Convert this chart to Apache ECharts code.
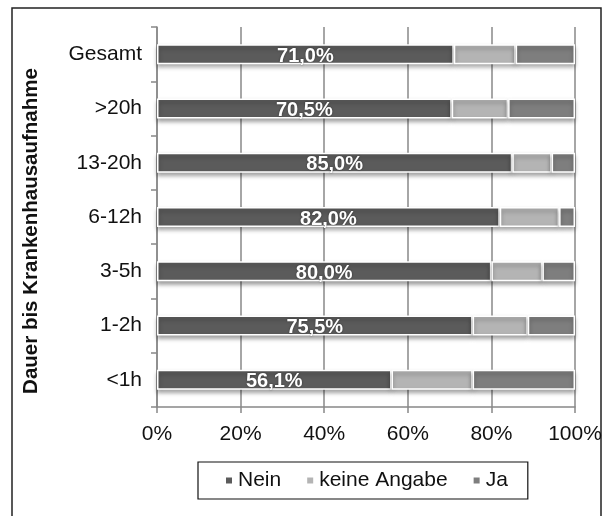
<!DOCTYPE html>
<html>
<head>
<meta charset="utf-8">
<script src="https://cdn.jsdelivr.net/npm/echarts@6/dist/echarts.min.js"></script>
<style>
  html, body { margin: 0; padding: 0; background: #fff; }
  #chart { width: 614px; height: 516px; }
</style>
</head>
<body>
<div id="chart"></div>
<script>
var categories = ['Gesamt', '>20h', '13-20h', '6-12h', '3-5h', '1-2h', '<1h']
var neinValues = [71.0, 70.5, 85.0, 82.0, 80.0, 75.5, 56.1]
var keineValues = [14.8, 13.5, 9.4, 14.2, 12.2, 13.2, 19.4]
var jaValues = [14.2, 16.0, 5.6, 3.8, 7.8, 11.3, 24.5]
var xTicks = [0, 20, 40, 60, 80, 100]

var chart = echarts.init(document.getElementById('chart'))

// gemeinsamer Stil fuer die Balken
var barStyle = function (color) {
  return {
    color: color,
    borderColor: '#fff',
    borderWidth: 1.5,
    shadowColor: 'rgba(0,0,0,0.35)',
    shadowBlur: 4,
    shadowOffsetY: 3
  }
}

var option = {
  backgroundColor: '#fff',
  animation: false,
  textStyle: { fontFamily: 'Liberation Sans, Arial, sans-serif' },
  graphic: [
    {
      type: 'rect',
      shape: { x: 12, y: 8, width: 589, height: 520 },
      style: { fill: 'none', stroke: '#222', lineWidth: 1.5 },
      silent: true
    },
    {
      type: 'text',
      x: 31, y: 231,
      rotation: Math.PI / 2,
      style: {
        text: 'Dauer bis Krankenhausaufnahme',
        font: 'bold 20.5px Liberation Sans, Arial, sans-serif',
        fill: '#111',
        textAlign: 'center',
        textVerticalAlign: 'middle'
      }
    }
  ],
  legend: {
    top: 462,
    left: 198,
    itemWidth: 8,
    itemHeight: 8,
    itemGap: 24,
    padding: [8, 20, 8, 26],
    borderColor: '#111',
    borderWidth: 1.2,
    icon: 'rect',
    textStyle: { fontSize: 21, color: '#111' },
    data: ['Nein', 'keine Angabe', 'Ja']
  },
  grid: { left: 157, right: 39, top: 27, bottom: 109, containLabel: false },
  xAxis: {
    type: 'value',
    min: 0,
    max: 100,
    interval: 20,
    axisLine: { show: true, lineStyle: { color: '#888', width: 1.5 } },
    axisTick: { show: true, length: 6, lineStyle: { color: '#888', width: 1.5 } },
    splitLine: { show: true, lineStyle: { color: '#888', width: 1.5 } },
    axisLabel: {
      fontSize: 21,
      color: '#111',
      margin: 17,
      formatter: function (v) { return xTicks.indexOf(v) >= 0 ? v + '%' : '' }
    }
  },
  yAxis: {
    type: 'category',
    inverse: true,
    data: categories,
    axisLine: { show: true, lineStyle: { color: '#888', width: 1.5 } },
    axisTick: { show: true, length: 6, lineStyle: { color: '#888', width: 1.5 } },
    axisLabel: { fontSize: 21, color: '#111', margin: 15 }
  },
  series: [
    {
      name: 'Nein',
      type: 'bar',
      stack: 'total',
      barWidth: 20,
      data: neinValues,
      itemStyle: barStyle('#5b5b5b'),
      label: {
        show: true,
        position: 'inside',
        offset: [0, 2],
        color: '#fff',
        fontSize: 20,
        fontWeight: 'bold',
        textShadowColor: 'rgba(0,0,0,0.5)',
        textShadowBlur: 2,
        formatter: function (p) { return p.value.toFixed(1).replace('.', ',') + '%' }
      }
    },
    {
      name: 'keine Angabe',
      type: 'bar',
      stack: 'total',
      barWidth: 20,
      data: keineValues,
      itemStyle: barStyle('#b4b4b4')
    },
    {
      name: 'Ja',
      type: 'bar',
      stack: 'total',
      barWidth: 20,
      data: jaValues,
      itemStyle: barStyle('#7e7e7e')
    }
  ]
}

chart.setOption(option)
</script>
</body>
</html>
